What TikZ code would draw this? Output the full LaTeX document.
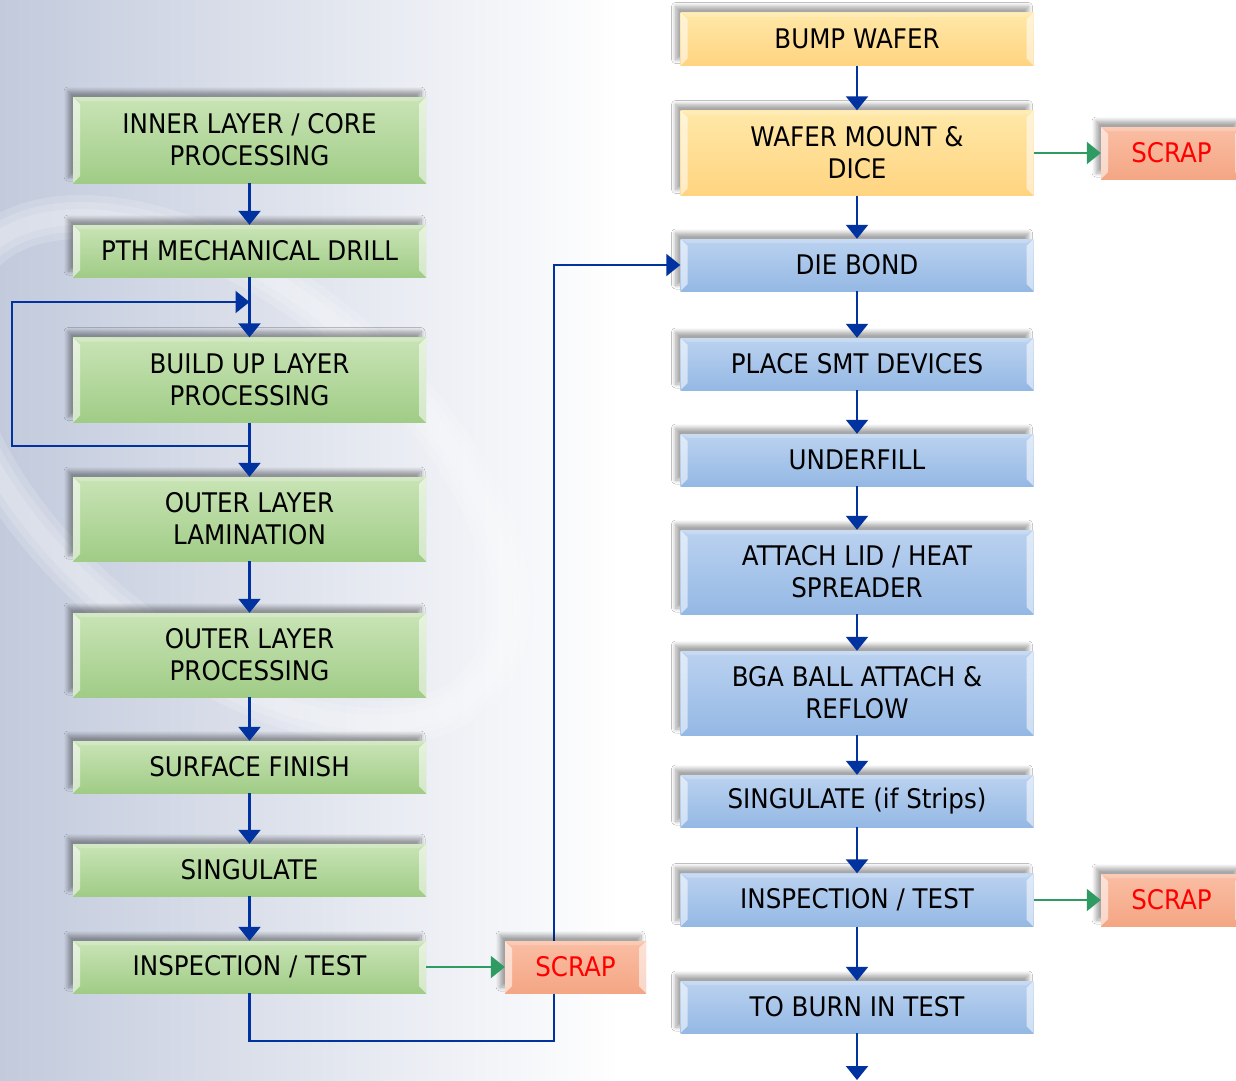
\documentclass[tikz,border=0pt]{standalone}
\usepackage{fontspec}
\setmainfont{DejaVu Sans}[FakeStretch=0.91]
\usetikzlibrary{arrows.meta,shadows.blur,calc}
\definecolor{arrblue}{RGB}{0,51,160}
\definecolor{arrgreen}{RGB}{46,155,98}
\definecolor{gtop}{RGB}{201,228,182}
\definecolor{gbot}{RGB}{160,204,134}
\definecolor{btop}{RGB}{187,210,240}
\definecolor{bbot}{RGB}{148,184,228}
\definecolor{ytop}{RGB}{255,232,168}
\definecolor{ybot}{RGB}{255,212,128}
\definecolor{stop}{RGB}{250,190,164}
\definecolor{sbot}{RGB}{244,166,132}
\definecolor{bgblue}{RGB}{194,202,220}
\tikzset{
  bevel/.style={path picture={
    \fill[white,opacity=0.55] (path picture bounding box.north west) -- ([xshift=7pt,yshift=-7pt]path picture bounding box.north west) -- ([xshift=7pt,yshift=7pt]path picture bounding box.south west) -- (path picture bounding box.south west) -- cycle;
    \fill[white,opacity=0.55] (path picture bounding box.north east) -- ([xshift=-7pt,yshift=-7pt]path picture bounding box.north east) -- ([xshift=-7pt,yshift=7pt]path picture bounding box.south east) -- (path picture bounding box.south east) -- cycle;
    \fill[white,opacity=0.2] (path picture bounding box.north west) -- ([xshift=7pt,yshift=-4pt]path picture bounding box.north west) -- ([xshift=-7pt,yshift=-4pt]path picture bounding box.north east) -- (path picture bounding box.north east) -- cycle;
  }},
  box/.style={minimum width=353pt, inner sep=0pt, align=center,
    font=\fontsize{27}{32}\selectfont,
    blur shadow={shadow xshift=-5pt,shadow yshift=6pt,shadow blur radius=4pt,shadow blur steps=10,shadow opacity=35},
    bevel},
  gbox/.style={box, top color=gtop, bottom color=gbot},
  bbox/.style={box, top color=btop, bottom color=bbot},
  ybox/.style={box, top color=ytop, bottom color=ybot},
  sbox/.style={box, minimum width=141pt, minimum height=52pt, top color=stop, bottom color=sbot, text=red},
  arr/.style={draw=arrblue, line width=2.2pt, -{Triangle[width=22pt,length=14pt]}},
  garr/.style={draw=arrgreen, line width=2.2pt, -{Triangle[width=22pt,length=14pt]}},
  swoosh/.style={white, opacity=0.16},
}
\begin{document}
\begin{tikzpicture}[x=1pt,y=-1pt]
\useasboundingbox (0,0) rectangle (1236,1080);
\fill[white] (0,0) rectangle (1236,1080);
\shade[left color=bgblue, right color=white] (0,0) rectangle (620,1080);
\begin{scope}[shift={(230,470)}, rotate=-40]
\draw[swoosh, line width=44pt] (0,0) ellipse [x radius=330, y radius=180];
\draw[swoosh, line width=30pt] (0,0) ellipse [x radius=330, y radius=180];
\draw[swoosh, line width=16pt] (0,0) ellipse [x radius=330, y radius=180];
\end{scope}
% left column
\node[gbox, minimum height=86pt] (L1) at (249.5,140) {INNER LAYER / CORE\\PROCESSING};
\node[gbox, minimum height=52pt] (L2) at (249.5,251) {PTH MECHANICAL DRILL};
\node[gbox, minimum height=85pt] (L3) at (249.5,380) {BUILD UP LAYER\\PROCESSING};
\node[gbox, minimum height=84pt] (L4) at (249.5,519) {OUTER LAYER\\LAMINATION};
\node[gbox, minimum height=84pt] (L5) at (249.5,655) {OUTER LAYER\\PROCESSING};
\node[gbox, minimum height=52pt] (L6) at (249.5,767) {SURFACE FINISH};
\node[gbox, minimum height=52pt] (L7) at (249.5,870) {SINGULATE};
\node[gbox, minimum height=52pt] (L8) at (249.5,967) {INSPECTION / TEST};
% right column
\node[ybox, minimum height=53pt] (R1) at (857,39) {BUMP WAFER};
\node[ybox, minimum height=85pt] (R2) at (857,153) {WAFER MOUNT \&\\DICE};
\node[bbox, minimum height=52pt] (R3) at (857,265) {DIE BOND};
\node[bbox, minimum height=52pt] (R4) at (857,364) {PLACE SMT DEVICES};
\node[bbox, minimum height=52pt] (R5) at (857,460) {UNDERFILL};
\node[bbox, minimum height=84pt] (R6) at (857,572) {ATTACH LID / HEAT\\SPREADER};
\node[bbox, minimum height=84pt] (R7) at (857,693) {BGA BALL ATTACH \&\\REFLOW};
\node[bbox, minimum height=52pt] (R8) at (857,801) {SINGULATE (if Strips)};
\node[bbox, minimum height=53pt] (R9) at (857,900) {INSPECTION / TEST};
\node[bbox, minimum height=52pt] (R10) at (857,1007) {TO BURN IN TEST};
\node[sbox] (S2) at (1171.5,153) {SCRAP};
\node[sbox] (S3) at (1171.5,900) {SCRAP};
\coordinate (end) at (857,1080);
% left arrows
\draw[arr] (L1) -- (L2);
\draw[arr] (L2) -- (L3);
\draw[arr] (L3) -- (L4);
\draw[arr] (L4) -- (L5);
\draw[arr] (L5) -- (L6);
\draw[arr] (L6) -- (L7);
\draw[arr] (L7) -- (L8);
\coordinate (lpA) at (249.5,446);
\coordinate (lpB) at (249.5,302);
\coordinate (loopx) at (12,0);
\draw[arr] (lpA) -| (loopx |- lpB) -- (lpB);
\coordinate (rt) at (554,1041);
\draw[arr] (L8.south) |- (rt) |- (R3.west);
\node[sbox] (S1) at (575.5,967) {SCRAP};
\draw[garr] (L8) -- (S1);
% right arrows
\draw[arr] (R1) -- (R2);
\draw[arr] (R2) -- (R3);
\draw[arr] (R3) -- (R4);
\draw[arr] (R4) -- (R5);
\draw[arr] (R5) -- (R6);
\draw[arr] (R6) -- (R7);
\draw[arr] (R7) -- (R8);
\draw[arr] (R8) -- (R9);
\draw[arr] (R9) -- (R10);
\draw[arr] (R10) -- (end);
\draw[garr] (R2) -- (S2);
\draw[garr] (R9) -- (S3);
\end{tikzpicture}
\end{document}
